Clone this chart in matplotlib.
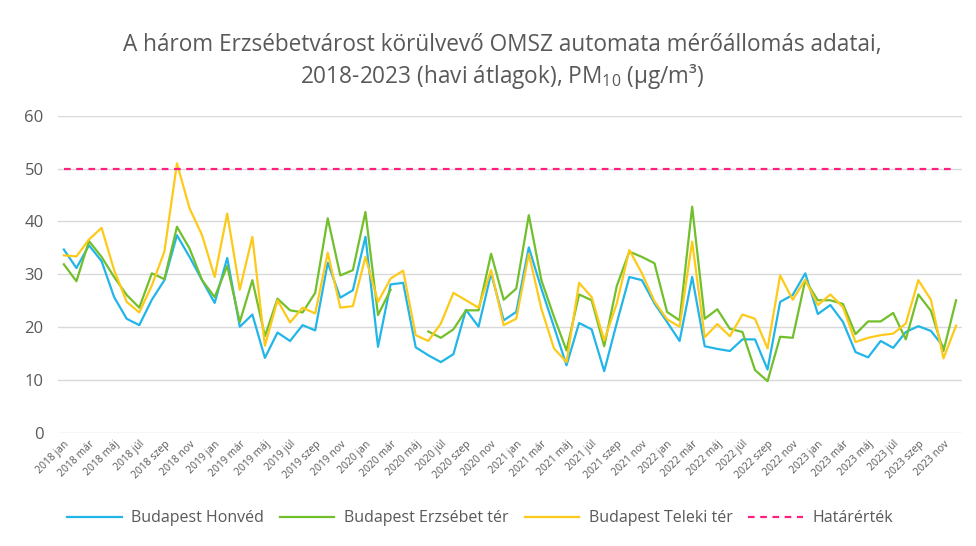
import numpy as np
import matplotlib
matplotlib.use("Agg")
import matplotlib.pyplot as plt

plt.rcParams['font.family'] = ['Open Sans', 'DejaVu Sans']
plt.rcParams['mathtext.default'] = 'regular'

nan = np.nan

years = [2018, 2019, 2020, 2021, 2022, 2023]
months = ['jan', 'feb', 'már', 'ápr', 'máj', 'jún', 'júl', 'aug', 'szep', 'okt', 'nov', 'dec']
labels = [f"{y} {m}" for y in years for m in months]

honved = [34.7, 31.2, 35.5, 32.5, 25.7, 21.6, 20.4, 25.2, 28.9, 37.4, 33.3, 28.9,
          24.6, 33.1, 20.1, 22.4, 14.2, 19.0, 17.4, 20.4, 19.4, 32.2, 25.6, 27.0,
          37.1, 16.3, 28.1, 28.4, 16.2, 14.7, 13.4, 14.9, 23.3, 20.1, 30.2, 21.3,
          22.9, 35.1, 27.3, 20.1, 12.8, 20.8, 19.6, 11.7, 20.8, 29.5, 28.9, 24.5,
          21.0, 17.4, 29.5, 16.4, 15.9, 15.5, 17.7, 17.7, 12.0, 24.8, 26.1, 30.2,
          22.5, 24.2, 21.0, 15.3, 14.3, 17.4, 16.1, 19.1, 20.2, 19.3, 16.3, nan]

erzsebet = [31.9, 28.7, 36.3, 33.3, 29.5, 26.1, 23.7, 30.2, 29.1, 39.0, 34.9, 28.9,
            25.7, 31.6, 21.0, 28.9, 18.3, 25.4, 23.2, 22.8, 26.5, 40.6, 29.8, 30.8,
            41.8, 22.3, 27.1, nan, nan, 19.2, 18.0, 19.6, 23.2, 23.2, 33.9, 25.2,
            27.3, 41.2, 28.9, 22.0, 15.6, 26.2, 25.1, 16.4, 27.8, 34.3, 33.3, 32.1,
            22.9, 21.3, 42.8, 21.6, 23.4, 19.7, 19.1, 11.9, 9.8, 18.2, 18.0, 28.9,
            25.1, 25.1, 24.4, 18.7, 21.1, 21.1, 22.7, 17.7, 26.2, 23.1, 15.5, 25.1]

teleki = [33.6, 33.4, 36.6, 38.8, 30.8, 24.8, 22.8, 27.9, 34.3, 51.0, 42.5, 37.4,
          29.5, 41.5, 27.1, 37.1, 16.5, 25.1, 20.9, 23.7, 22.6, 34.1, 23.7, 24.0,
          33.3, 24.8, 29.2, 30.7, 18.5, 17.4, 20.7, 26.5, 25.1, 23.7, 30.8, 20.4,
          21.6, 33.9, 23.5, 16.0, 13.4, 28.4, 25.7, 17.5, 24.5, 34.6, 30.2, 24.9,
          21.5, 20.1, 36.2, 18.1, 20.6, 18.3, 22.4, 21.6, 16.0, 29.8, 25.2, 29.0,
          24.2, 26.2, 23.8, 17.2, 18.0, 18.5, 18.8, 20.7, 28.9, 25.2, 14.1, 20.3]

limit = 50

fig = plt.figure(figsize=(9.76, 5.46), dpi=100)
ax = fig.add_axes([0.059, 0.207, 0.927, 0.581])

x = np.arange(len(labels))
ax.plot(x, honved, color='#22b5e8', lw=1.6, label='Budapest Honvéd')
ax.plot(x, erzsebet, color='#72bf2c', lw=1.6, label='Budapest Erzsébet tér')
ax.plot(x, teleki, color='#fdca1a', lw=1.6, label='Budapest Teleki tér')
ax.plot(x, [limit] * len(x), color='#ff1f80', lw=1.6, ls=(0, (3, 2.5)), label='Határérték')

ax.set_xlim(-0.5, len(labels) - 0.5)
ax.set_ylim(0, 60)
ax.set_yticks(range(0, 61, 10))
ax.yaxis.grid(True, color='#d9d9d9', lw=1)
ax.set_axisbelow(True)
for s in ax.spines.values():
    s.set_visible(False)
ax.tick_params(axis='y', length=0, labelsize=12, labelcolor='#595959', pad=10)
ax.set_xticks(x[::2])
ax.set_xticklabels(labels[::2], rotation=45, ha='right', rotation_mode='anchor',
                   fontsize=7.5, color='#595959')
ax.tick_params(axis='x', length=0, pad=4)

fig.suptitle('A három Erzsébetvárost körülvevő OMSZ automata mérőállomás adatai,\n'
             '2018-2023 (havi átlagok), PM$_{10}$ (µg/m³)',
             x=0.515, y=0.94, fontsize=16.3, color='#595959', linespacing=1.25)

fig.legend(loc='lower center', bbox_to_anchor=(0.492, 0.01), ncol=4, frameon=False,
           fontsize=11.5, handlelength=3.4, handletextpad=0.6, columnspacing=1.0,
           labelcolor='#595959')

fig.savefig('out.png', dpi=100)
